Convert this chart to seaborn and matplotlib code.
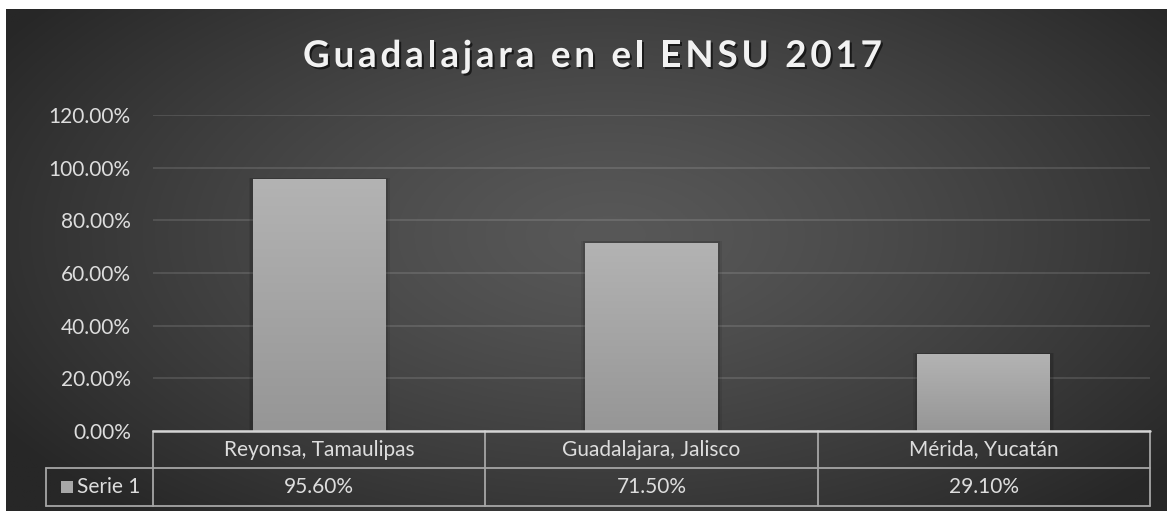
import numpy as np
import pandas as pd
import matplotlib
matplotlib.use("Agg")
import matplotlib.pyplot as plt
import matplotlib.patheffects as pe
from matplotlib.patches import Rectangle
from matplotlib.transforms import blended_transform_factory
import seaborn as sns

# data
ciudades = ["Reyonsa, Tamaulipas", "Guadalajara, Jalisco", "Mérida, Yucatán"]
valores = [0.956, 0.715, 0.291]
serie = "Serie 1"
titulo = "Guadalajara en el ENSU 2017"
yticks = [0.0, 0.2, 0.4, 0.6, 0.8, 1.0, 1.2]

W, H = 1167, 511
TXT = "#dddddd"
LINE = "#a6a6a6"
FS = 15

sns.set_theme(style="dark")
plt.rcParams["font.family"] = ["Lato", "DejaVu Sans"]

fig = plt.figure(figsize=(W / 100, H / 100), dpi=100)
fig.patch.set_facecolor("white")

# radial gradient background
bg = fig.add_axes([6 / W, 0, 1 - 6 / W, (H - 9) / H])
yy, xx = np.mgrid[0:1:300j, 0:1:600j]
r = np.sqrt(((xx - 0.52) / 0.62) ** 2 + ((yy - 0.55) / 0.75) ** 2)
r = np.clip(r, 0, 1)
g = (0x58 + (0x27 - 0x58) * r ** 1.3) / 255.0
bg.imshow(np.dstack([g, g, g]), aspect="auto", extent=[0, 1, 0, 1], origin="lower")
bg.set_axis_off()

ax = fig.add_axes([153 / W, (H - 431) / H, (1150 - 153) / W, (431 - 115) / H])
ax.patch.set_alpha(0)

df = pd.DataFrame({"ciudad": ciudades, "valor": valores})
sns.barplot(data=df, x="ciudad", y="valor", width=0.4, color="#a5a5a5", ax=ax,
            saturation=1, linewidth=0, edgecolor="none")

grad = np.linspace(0x96, 0xb3, 100)[:, None] / 255.0
grad_img = np.dstack([grad, grad, grad])
for p in ax.patches:
    x0, y0 = p.get_x(), p.get_y()
    w, h = p.get_width(), p.get_height()
    p.set_linewidth(0)
    # soft shadow
    for k, a in [(0.012, 0.08), (0.007, 0.10)]:
        ax.add_patch(Rectangle((x0 - k, y0), w + 2 * k, h + 0.006, facecolor="black",
                               edgecolor="none", alpha=a, zorder=1.5))
    p.set_zorder(2)
    im = ax.imshow(grad_img, aspect="auto", extent=[x0, x0 + w, y0, y0 + h],
                   origin="lower", zorder=2.1)
    im.set_clip_path(p)

ax.set_xlim(-0.5, 2.5)
ax.set_ylim(0, 1.2)
ax.set_yticks(yticks)
ax.set_yticklabels([f"{v * 100:.2f}%" for v in yticks])
ax.tick_params(axis="y", length=0, pad=16, colors=TXT, labelsize=FS)
ax.set_xticks([])
ax.set_xlabel("")
ax.set_ylabel("")
ax.grid(axis="y", color="white", alpha=0.13, lw=1.3)
ax.set_axisbelow(True)
for s in ax.spines.values():
    s.set_visible(False)

# data table under the plot
tr = blended_transform_factory(ax.transData, ax.transAxes)
r1 = -37 / 316
r2 = -75 / 316
xleg = (46 - 153) / 332.3 - 0.5
kw = dict(transform=tr, clip_on=False, color=LINE, lw=1.3)
ax.plot([-0.5, 2.5], [0, 0], transform=tr, clip_on=False, color="#d4d4d4", lw=1.8, zorder=3)
ax.plot([xleg, 2.5], [r1, r1], **kw)
ax.plot([xleg, 2.5], [r2, r2], **kw)
for xv in [-0.5, 0.5, 1.5, 2.5]:
    ax.plot([xv, xv], [0, r2], **kw)
ax.plot([xleg, xleg], [r1, r2], **kw)

for i, (c, v) in enumerate(zip(ciudades, valores)):
    ax.text(i, (0 + r1) / 2, c, transform=tr, ha="center", va="center",
            color=TXT, fontsize=FS)
    ax.text(i, (r1 + r2) / 2, f"{v * 100:.2f}%", transform=tr, ha="center",
            va="center", color=TXT, fontsize=FS)

sq_x = (61 - 153) / 332.3 - 0.5
sq = Rectangle((sq_x, (r1 + r2) / 2 - 5.5 / 316), 12 / 332.3, 12 / 316, transform=tr,
               clip_on=False, facecolor="#a8a8a8", edgecolor="none")
ax.add_patch(sq)
ax.text((77 - 153) / 332.3 - 0.5, (r1 + r2) / 2, serie, transform=tr, ha="left",
        va="center", color=TXT, fontsize=FS)

# title with letter spacing: place characters one by one
renderer = fig.canvas.get_renderer()
tkw = dict(fontsize=26.5, fontweight="bold", color="#f2f2f2", va="baseline", ha="left",
           path_effects=[pe.SimplePatchShadow(offset=(1.5, -1.5), shadow_rgbFace="black", alpha=0.6),
                         pe.Normal()])
widths = []
for ch in titulo:
    if ch == " ":
        t = fig.text(0, 0, "a a", **tkw)
        wa = fig.text(0, 0, "aa", **tkw)
        widths.append(t.get_window_extent(renderer).width - wa.get_window_extent(renderer).width)
        t.remove(); wa.remove()
    else:
        t = fig.text(0, 0, ch, **tkw)
        widths.append(t.get_window_extent(renderer).width)
        t.remove()
total = 579
gap = (total - sum(widths)) / (len(titulo) - 1)
xpos = 303
for ch, wch in zip(titulo, widths):
    if ch != " ":
        fig.text(xpos / W, 1 - 67 / H, ch, **tkw)
    xpos += wch + gap

fig.savefig("out.png", dpi=100, facecolor=fig.get_facecolor())
